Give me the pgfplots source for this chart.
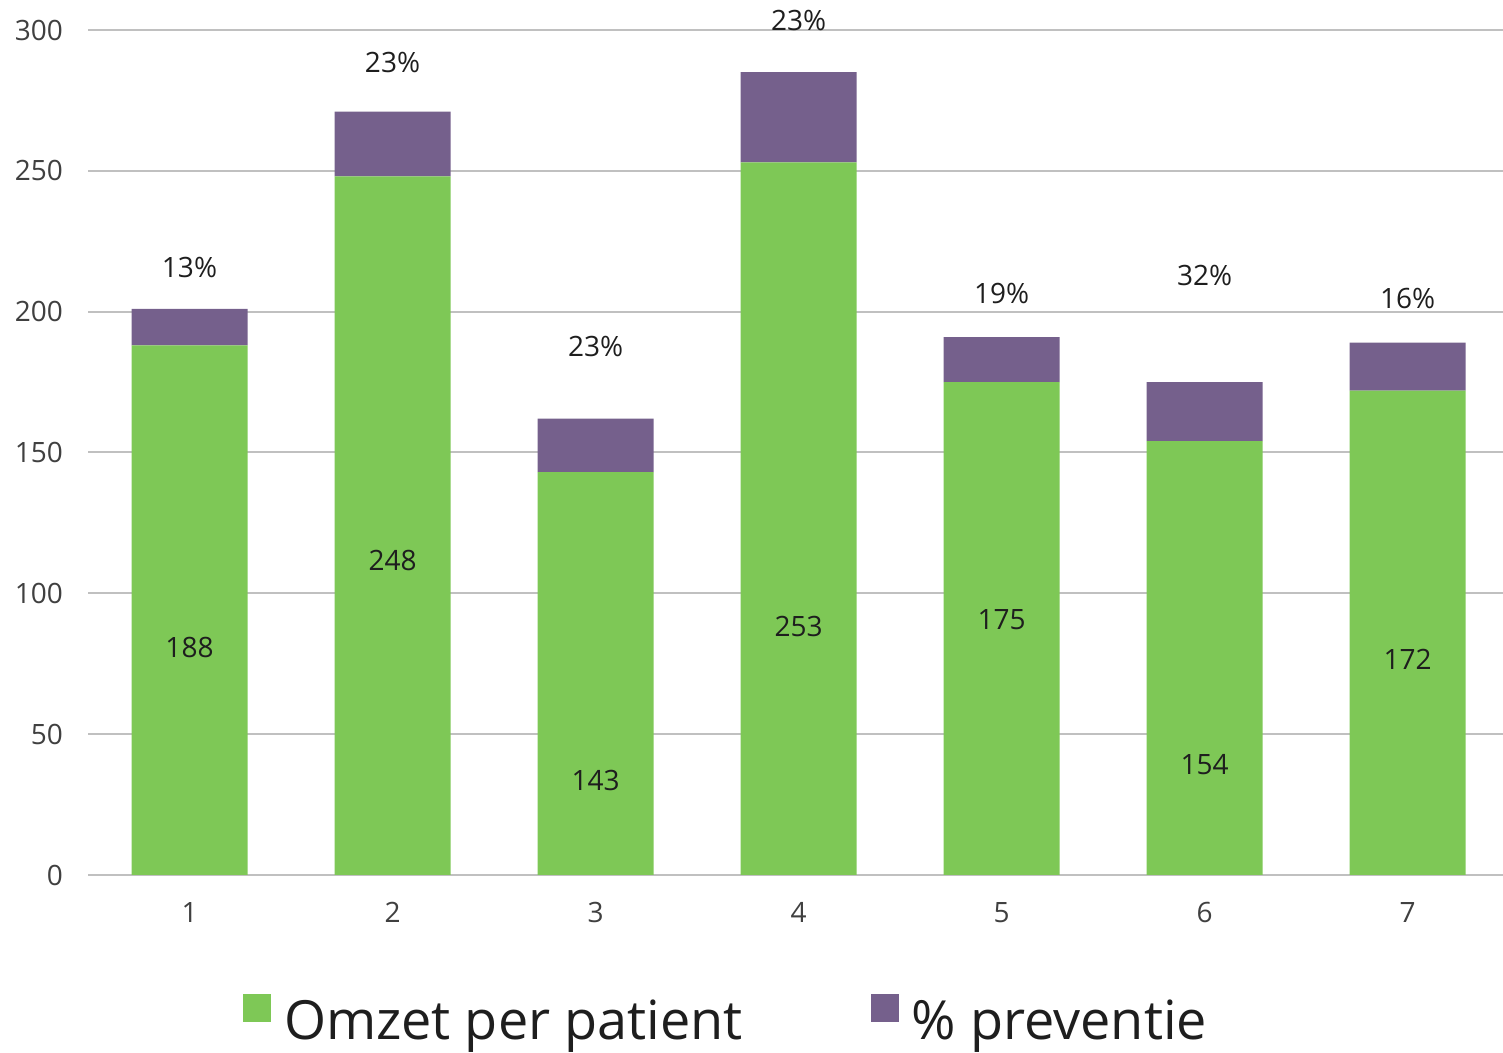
\documentclass[border=0pt]{standalone}
\usepackage{fontspec}
\setmainfont{Open Sans}
\usepackage{pgfplots}
\pgfplotsset{compat=1.18}
\definecolor{bargreen}{RGB}{126,200,86}
\definecolor{barpurple}{RGB}{117,96,140}
\definecolor{gridgray}{RGB}{192,192,192}
\definecolor{ticktext}{RGB}{64,64,64}
\definecolor{labeltext}{RGB}{30,30,30}
\tikzset{lbl/.style={font=\fontsize{14}{16}\selectfont, text=labeltext}}
\begin{document}
\begin{tikzpicture}
\path[use as bounding box] (0,0) rectangle (751.5pt,526.5pt);
\begin{axis}[
 at={(44pt,89pt)}, anchor=south west,
 scale only axis, width=707.5pt, height=422.5pt,
 ybar stacked, bar width=58pt,
 xmin=0.5, xmax=7.47, ymin=0, ymax=300,
 xtick={1,...,7}, ytick={0,50,...,300},
 axis x line*=bottom, axis y line*=left,
 x axis line style={gridgray, line width=1pt},
 y axis line style={draw=none},
 major tick length=0pt,
 ymajorgrids, grid style={gridgray, line width=1pt},
 tick label style={font=\fontsize{14}{16}\selectfont, text=ticktext},
 /pgf/number format/assume math mode=true,
 yticklabel style={xshift=-9pt},
 xticklabel style={yshift=-10pt},
 clip=false,
 legend style={at={(0.4516,-0.172)}, anchor=center, draw=none, fill=none,
   font=\fontsize{27}{31}\selectfont, text=labeltext,
   legend columns=2,
   /tikz/every odd column/.append style={column sep=4.5pt},
   /tikz/every even column/.append style={column sep=62pt}},
 legend image code/.code={\fill[#1] (0pt,0pt) rectangle (14pt,14pt);},
]
\addplot[fill=bargreen, draw=none] coordinates {(1,188) (2,248) (3,143) (4,253) (5,175) (6,154) (7,172)};
\addplot[fill=barpurple, draw=none] coordinates {(1,13) (2,23) (3,19) (4,32) (5,16) (6,21) (7,17)};
\legend{Omzet per patient, \% preventie}
\coordinate (g1) at (axis cs:1,80.9);
\coordinate (g2) at (axis cs:2,111.5);
\coordinate (g3) at (axis cs:3,33.7);
\coordinate (g4) at (axis cs:4,88.4);
\coordinate (g5) at (axis cs:5,90.5);
\coordinate (g6) at (axis cs:6,39.1);
\coordinate (g7) at (axis cs:7,76.7);
\coordinate (p1) at (axis cs:1,215.5);
\coordinate (p2) at (axis cs:2,288.3);
\coordinate (p3) at (axis cs:3,187.8);
\coordinate (p4) at (axis cs:4,303.2);
\coordinate (p5) at (axis cs:5,206.6);
\coordinate (p6) at (axis cs:6,213.0);
\coordinate (p7) at (axis cs:7,204.5);
\end{axis}
\node[lbl] at (g1) {188};
\node[lbl] at (g2) {248};
\node[lbl] at (g3) {143};
\node[lbl] at (g4) {253};
\node[lbl] at (g5) {175};
\node[lbl] at (g6) {154};
\node[lbl] at (g7) {172};
\node[lbl] at (p1) {13\%};
\node[lbl] at (p2) {23\%};
\node[lbl] at (p3) {23\%};
\node[lbl] at (p4) {23\%};
\node[lbl] at (p5) {19\%};
\node[lbl] at (p6) {32\%};
\node[lbl] at (p7) {16\%};
\end{tikzpicture}
\end{document}
